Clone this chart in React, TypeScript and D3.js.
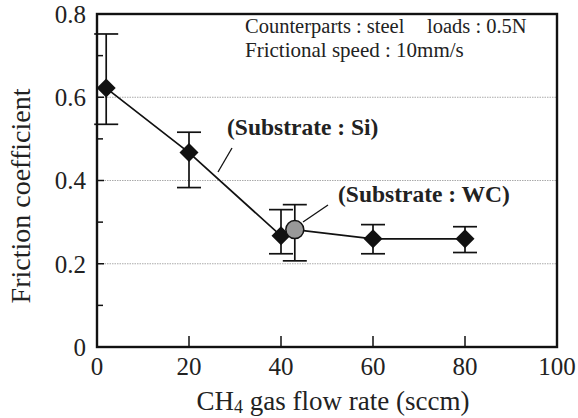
import * as d3 from 'd3';

const width = 578;
const height = 418;
const margin = { top: 14, right: 21, bottom: 71, left: 97 };
const innerW = width - margin.left - margin.right;
const innerH = height - margin.top - margin.bottom;

// Si substrate series
const siFlow = [2, 20, 40, 60, 80];
const siFriction = [0.622, 0.467, 0.267, 0.26, 0.26];
const siErrHigh = [0.752, 0.516, 0.33, 0.294, 0.289];
const siErrLow = [0.535, 0.383, 0.224, 0.224, 0.227];

// WC substrate point
const wcFlow = [43];
const wcFriction = [0.282];
const wcErrHigh = [0.342];
const wcErrLow = [0.207];

// connecting line order
const lineFlow = [2, 20, 40, 43, 60, 80];
const lineFriction = [0.622, 0.467, 0.267, 0.282, 0.26, 0.26];

const xTicks = [0, 20, 40, 60, 80, 100];
const yTicks = [0, 0.2, 0.4, 0.6, 0.8];
const yMinor = [0.1, 0.3, 0.5, 0.7];
const gridValues = [0.2, 0.4, 0.6];

const font = '"Liberation Serif", "Times New Roman", serif';

const x = d3.scaleLinear().domain([0, 100]).range([0, innerW]);
const y = d3.scaleLinear().domain([0, 0.8]).range([innerH, 0]);

const line = d3
  .line<number>()
  .x((d, i) => x(lineFlow[i]))
  .y((d) => y(d));

const diamond = d3.symbol().type(d3.symbolDiamond2).size(230);

const ErrorBar = ({ fx, lo, hi }: { fx: number; lo: number; hi: number }) => {
  const cx = x(fx);
  const cap = 12;
  return (
    <g stroke="#111" strokeWidth={1.7}>
      <line x1={cx} x2={cx} y1={y(hi)} y2={y(lo)} />
      <line x1={cx - cap} x2={cx + cap} y1={y(hi)} y2={y(hi)} />
      <line x1={cx - cap} x2={cx + cap} y1={y(lo)} y2={y(lo)} />
    </g>
  );
};

const App = () => {
  return (
    <svg
      width={width}
      height={height}
      style={{ position: 'absolute', left: 0, top: 0, background: '#fff' }}
      fontFamily={font}
    >
      <g transform={`translate(${margin.left},${margin.top})`}>
        {gridValues.map((v) => (
          <line
            key={v}
            x1={0}
            x2={innerW}
            y1={y(v)}
            y2={y(v)}
            stroke="#aaa"
            strokeWidth={1}
            strokeDasharray="1.5,1"
          />
        ))}

        {/* ticks */}
        {yTicks.slice(1, -1).map((v) => (
          <line key={'ym' + v} x1={0} x2={7} y1={y(v)} y2={y(v)} stroke="#111" strokeWidth={1.5} />
        ))}
        {yMinor.map((v) => (
          <line key={'yn' + v} x1={0} x2={6} y1={y(v)} y2={y(v)} stroke="#111" strokeWidth={1.5} />
        ))}
        {xTicks.slice(1, -1).map((v) => (
          <line key={'xt' + v} x1={x(v)} x2={x(v)} y1={innerH} y2={innerH - 11} stroke="#111" strokeWidth={1.5} />
        ))}

        <rect x={0} y={0} width={innerW} height={innerH} fill="none" stroke="#111" strokeWidth={2.4} />

        {/* tick labels */}
        {yTicks.map((v) => (
          <text key={'yl' + v} x={-11} y={y(v)} dy="0.35em" textAnchor="end" fontSize={25} fill="#222">
            {v === 0 ? '0' : v.toFixed(1)}
          </text>
        ))}
        {xTicks.map((v) => (
          <text key={'xl' + v} x={x(v)} y={innerH + 28} textAnchor="middle" fontSize={25} fill="#222">
            {v}
          </text>
        ))}

        <path d={line(lineFriction) || ''} fill="none" stroke="#111" strokeWidth={1.7} />

        {siFlow.map((f, i) => (
          <ErrorBar key={'se' + i} fx={f} lo={siErrLow[i]} hi={siErrHigh[i]} />
        ))}
        {wcFlow.map((f, i) => (
          <ErrorBar key={'we' + i} fx={f} lo={wcErrLow[i]} hi={wcErrHigh[i]} />
        ))}

        {siFlow.map((f, i) => (
          <path
            key={'sp' + i}
            d={diamond() || ''}
            transform={`translate(${x(f)},${y(siFriction[i])})`}
            fill="#111"
          />
        ))}
        {wcFlow.map((f, i) => (
          <circle
            key={'wp' + i}
            cx={x(f)}
            cy={y(wcFriction[i])}
            r={9}
            fill="#999"
            stroke="#111"
            strokeWidth={1.5}
          />
        ))}

        {/* annotations */}
        <text x={148} y={19} fontSize={20.5} fill="#222">
          Counterparts : steel
          <tspan x={330}>loads : 0.5N</tspan>
        </text>
        <text x={148} y={43} fontSize={21} fill="#222">
          Frictional speed : 10mm/s
        </text>

        <text x={130} y={121} fontSize={23.5} fontWeight="bold" fill="#222">
          (Substrate : Si)
        </text>
        <line x1={135} y1={134} x2={121} y2={158} stroke="#111" strokeWidth={1.3} />

        <text x={241} y={188} fontSize={23.5} fontWeight="bold" fill="#222">
          (Substrate : WC)
        </text>
        <line x1={231} y1={191} x2={206} y2={208} stroke="#111" strokeWidth={1.3} />
      </g>

      <text
        transform={`translate(30,196) rotate(-90)`}
        textAnchor="middle"
        fontSize={28}
        fill="#222"
      >
        Friction coefficient
      </text>
      <text x={333} y={410} textAnchor="middle" fontSize={27} fill="#222">
        CH<tspan fontSize={18} dy={3}>4</tspan>
        <tspan dy={-3}> gas flow rate (sccm)</tspan>
      </text>
    </svg>
  );
};

export default App;
